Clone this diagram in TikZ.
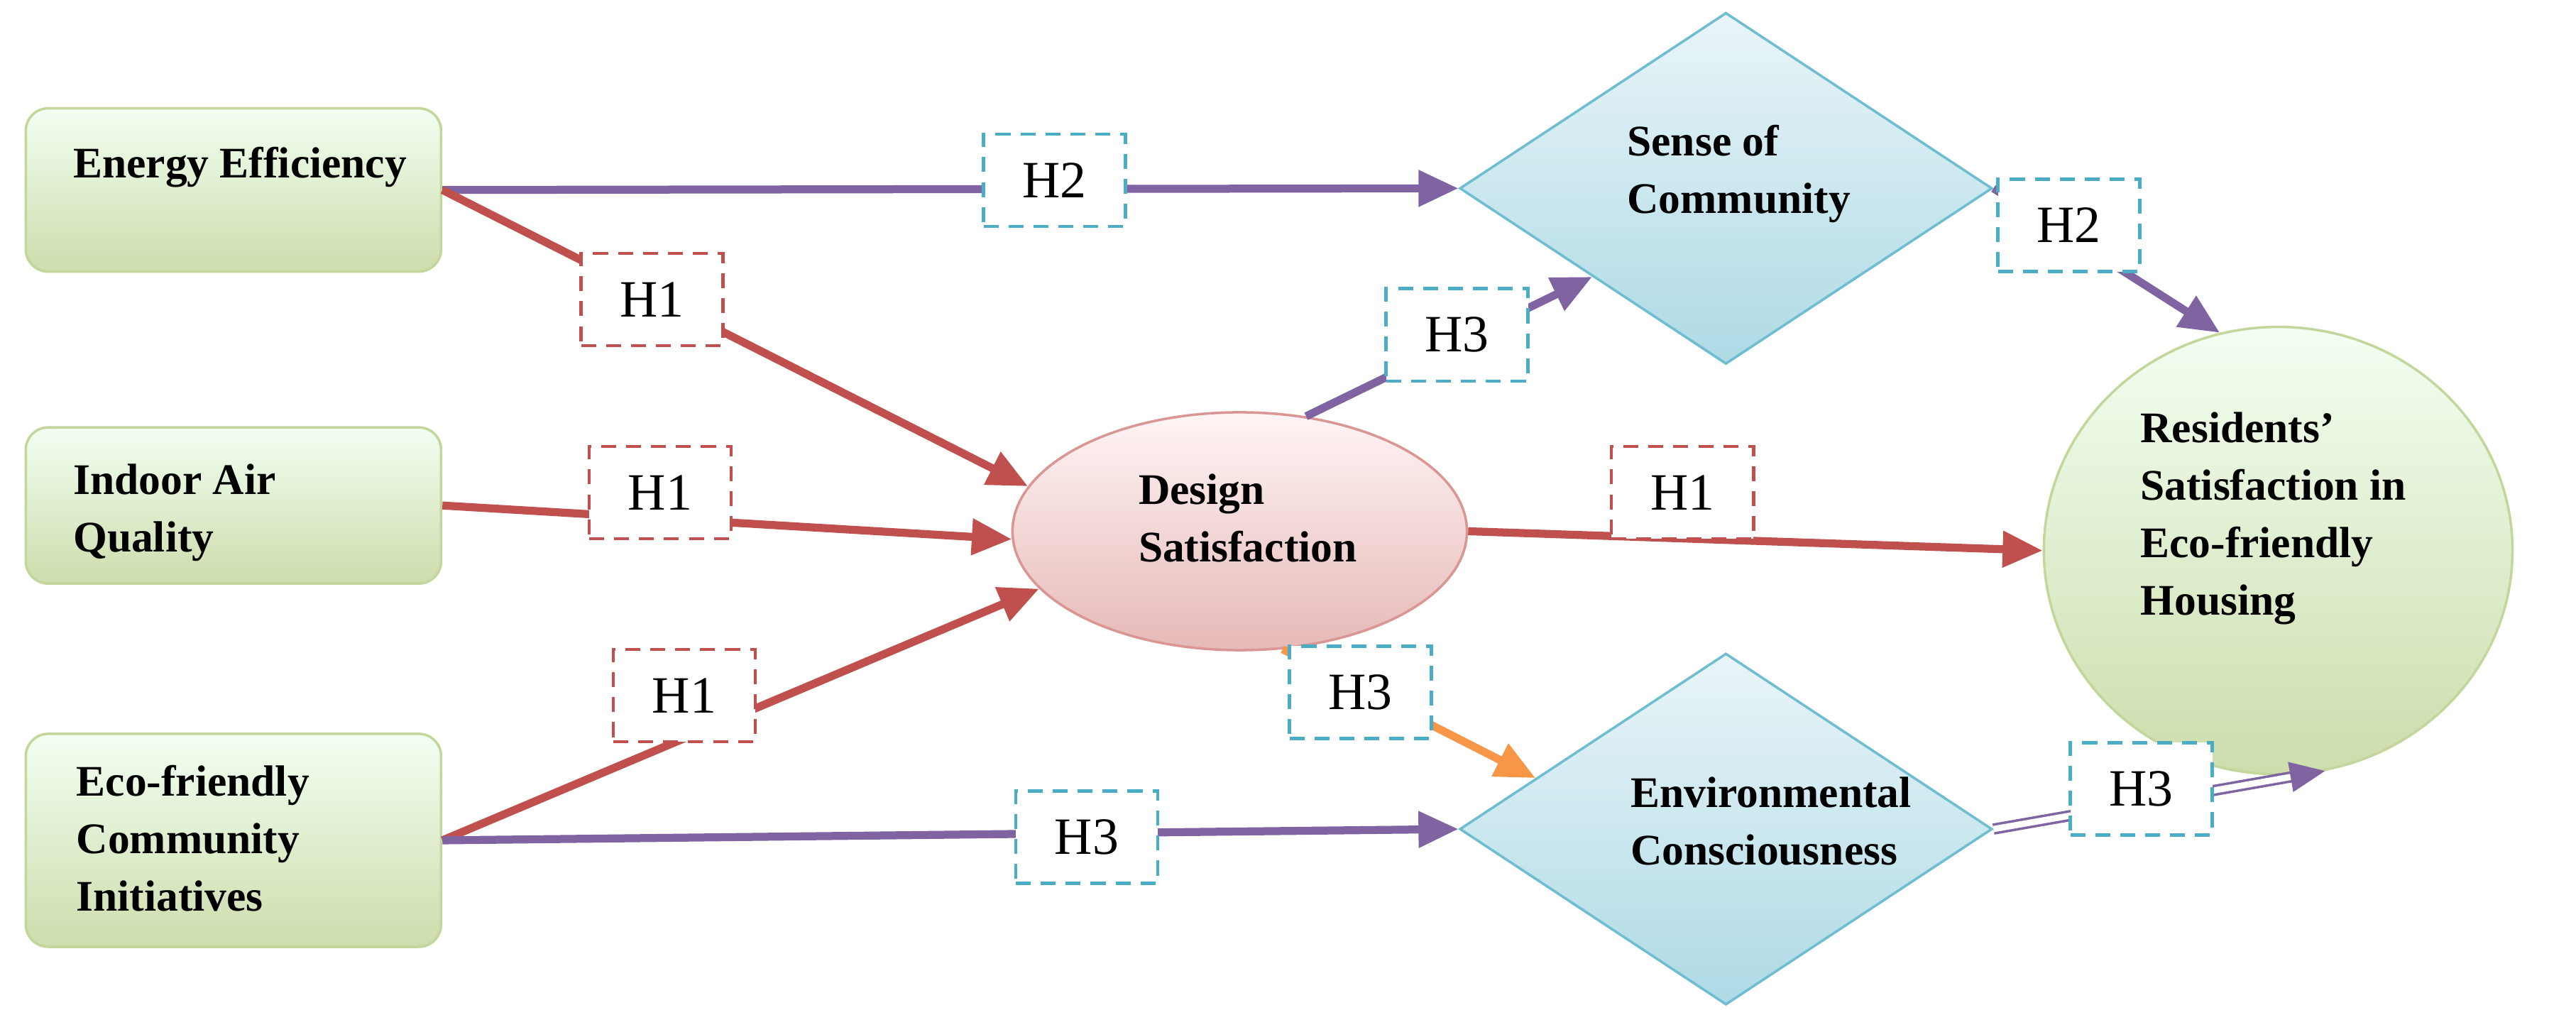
\documentclass[tikz,border=0pt]{standalone}
\usepackage{fontspec}
\setmainfont{Liberation Serif}
\usetikzlibrary{shapes.geometric,arrows.meta}
\definecolor{pur}{HTML}{8064A2}
\definecolor{rd}{HTML}{C0504D}
\definecolor{org}{HTML}{F79646}
\definecolor{blu}{HTML}{4BACC6}
\definecolor{grb}{HTML}{9BBB59}
\begin{document}
\begin{tikzpicture}[x=0.02268cm,y=-0.02268cm,
 box/.style={draw=grb!60!white,line width=1pt,rounded corners=9pt,top color=green!5!white,bottom color=grb!50!white,minimum width=5.85cm,inner sep=0pt},
 dia/.style={diamond,draw=blu!80,line width=1pt,top color=blu!12!white,bottom color=blu!45!white,minimum width=7.5cm,minimum height=4.95cm,inner sep=0pt},
 txt/.style={font=\fontsize{17.5}{23}\selectfont\bfseries,align=left},
 lab/.style={draw,dashed,dash pattern=on 6pt off 4pt,line width=1.3pt,fill=white,minimum width=2.0cm,minimum height=1.3cm,font=\fontsize{21}{24}\selectfont},
 lr/.style={lab,draw=rd},
 lb/.style={lab,draw=blu},
 arr/.style={line width=3.2pt,-{Triangle[length=16pt,width=14pt]}},
]
\useasboundingbox (0,0) rectangle (1600,627);
\node[box,minimum height=2.3cm] (ee) at (145,118) {};
\node[box,minimum height=2.2cm] (iaq) at (145,314) {};
\node[box,minimum height=3.0cm] (eci) at (145,522) {};
\node[txt,anchor=north west] (tee) at (40,86) {Energy Efficiency};
\node[txt,anchor=north west] (tiaq) at (40,283) {Indoor Air\\Quality};
\node[txt,anchor=north west] (teci) at (42,470) {Eco-friendly\\Community\\Initiatives};
\node[dia] (soc) at (1072,117) {};
\node[txt] (tsoc) at (1080,108) {Sense of\\Community};
\node[dia] (env) at (1072,515) {};
\node[txt] (tenv) at (1100,510) {Environmental\\Consciousness};
\node[ellipse,draw=rd!60,line width=1pt,top color=red!4!white,bottom color=rd!40!white,minimum width=6.4cm,minimum height=3.35cm] (ds) at (770,330) {};
\node[txt] (tds) at (775,322) {Design\\Satisfaction};
\node[ellipse,draw=grb!60,line width=1pt,top color=green!5!white,bottom color=grb!50!white,minimum width=6.6cm,minimum height=6.3cm] (res) at (1415,342) {};
\node[txt] (tres) at (1412,322) {Residents'\\Satisfaction in\\Eco-friendly\\Housing};
\draw[arr,pur] (ee.east) -- (soc.west);
\draw[arr,rd] (ee.east) -- (ds.168);
\draw[arr,rd] (iaq.east) -- (ds.182);
\draw[arr,rd] (eci.east) -- (ds.196);
\draw[arr,pur] (eci.east) -- (env.west);
\draw[arr,pur] (ds.60) -- (soc.south west);
\draw[arr,rd] (ds.east) -- (res.west);
\draw[arr,org] (ds.-70) -- (env.165);
\draw[arr,pur] (soc.east) -- (res.105);
\draw[pur,line width=1pt,double=white,double distance=2.5pt,-{Triangle[length=14pt,width=12pt]}] (env.east) -- (res.-78);
\node[lb] (l1) at (655,112) {H2};
\node[lr] (l2) at (405,186) {H1};
\node[lr] (l3) at (410,306) {H1};
\node[lr] (l4) at (425,432) {H1};
\node[lb] (l5) at (905,208) {H3};
\node[lr] (l6) at (1045,306) {H1};
\node[lb] (l7) at (1285,140) {H2};
\node[lb] (l8) at (845,430) {H3};
\node[lb] (l9) at (675,520) {H3};
\node[lb] (l10) at (1330,490) {H3};
\end{tikzpicture}
\end{document}
